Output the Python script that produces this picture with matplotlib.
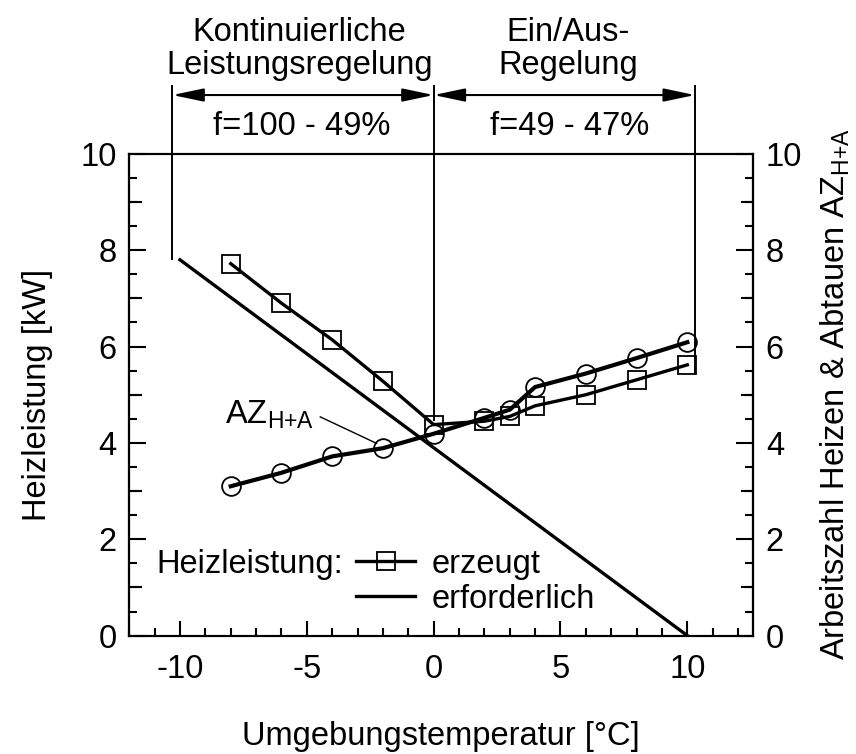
import numpy as np
import matplotlib
matplotlib.use("Agg")
import matplotlib.pyplot as plt
from matplotlib.ticker import MultipleLocator, FixedLocator
from matplotlib.lines import Line2D

plt.rcParams['font.family'] = ['Liberation Sans', 'DejaVu Sans']
plt.rcParams['mathtext.fontset'] = 'custom'
plt.rcParams['mathtext.rm'] = 'Liberation Sans'
plt.rcParams['mathtext.it'] = 'Liberation Sans'
plt.rcParams['font.size'] = 23.5

# generated heating power [kW]
t_gen = [-8, -6, -4, -2, 0, 2, 3, 4, 6, 8, 10]
p_gen = [7.72, 6.90, 6.14, 5.28, 4.38, 4.45, 4.55, 4.77, 5.00, 5.31, 5.62]

# coefficient of performance heating + defrost
t_az = [-8, -6, -4, -2, 0, 2, 3, 4, 6, 8, 10]
az = [3.10, 3.38, 3.72, 3.89, 4.19, 4.52, 4.69, 5.16, 5.44, 5.76, 6.09]

# required heating power [kW]
t_req = [-10, 10]
p_req = [7.8, 0.0]

# control regions
region_x = [-10.3, 0, 10.3]
region_bottom = [7.81, 4.48, 5.45]
region_top = 11.4
arrow_y = 11.22
region_titles = ["Kontinuierliche\nLeistungsregelung", "Ein/Aus-\nRegelung"]
region_f = ["f=100 - 49%", "f=49 - 47%"]

fig = plt.figure(figsize=(8.56, 7.54), dpi=100)
ax = fig.add_axes([0.151, 0.157, 0.729, 0.639])
ax2 = ax.twinx()

ax.plot(t_req, p_req, color='k', lw=2.4, label='erforderlich')
ax.plot(t_gen, p_gen, color='k', lw=2.4, marker='s', ms=13.5, mfc='none',
        mec='k', mew=1.3, label='erzeugt')
ax2.plot(t_az, az, color='k', lw=3.0, marker='o', ms=13.5, mfc='none',
         mec='k', mew=1.3)

ax.set_xlim(-12, 12.6)
ax.set_ylim(0, 10)
ax2.set_ylim(0, 10)

for a in (ax, ax2):
    for s in a.spines.values():
        s.set_linewidth(1.5)
ax.xaxis.set_major_locator(FixedLocator([-10, -5, 0, 5, 10]))
ax.xaxis.set_minor_locator(MultipleLocator(1))
ax.set_xticklabels(['-10', '-5', '0', '5', '10'])
ax.yaxis.set_major_locator(MultipleLocator(2))
ax.yaxis.set_minor_locator(MultipleLocator(0.5))
ax2.yaxis.set_major_locator(MultipleLocator(2))
ax2.yaxis.set_minor_locator(MultipleLocator(0.5))
ax.tick_params(axis='x', which='major', direction='in', length=11, width=1.5, pad=13, top=False)
ax.tick_params(axis='x', which='minor', direction='in', length=6, width=1.5, top=False)
ax.tick_params(axis='y', which='major', direction='in', length=12, width=1.5, pad=9, right=False)
ax.tick_params(axis='y', which='minor', direction='in', length=6, width=1.5, right=False)
ax2.tick_params(axis='y', which='major', direction='in', length=12, width=1.5, pad=9)
ax2.tick_params(axis='y', which='minor', direction='in', length=6, width=1.5)

# medium ticks at odd integers
for side in ('left', 'right'):
    sec = ax.secondary_yaxis(side)
    sec.set_yticks([1, 3, 5, 7, 9])
    sec.tick_params(direction='in', length=9, width=1.5, labelleft=False, labelright=False)
    sec.spines[side].set_linewidth(1.5)
    sec.set_yticklabels([])

ax.set_xlabel("Umgebungstemperatur [°C]", labelpad=26)
ax.set_ylabel("Heizleistung [kW]", labelpad=20)
ax2.set_ylabel("Arbeitszahl Heizen & Abtauen AZ$_\\mathregular{H{+}A}$", labelpad=12)

# region guides above the plot
for xv, yb in zip(region_x, region_bottom):
    ax.plot([xv, xv], [yb, region_top], color='k', lw=1.4, clip_on=False)
for i in range(2):
    ax.annotate('', xy=(region_x[i], arrow_y), xytext=(region_x[i + 1], arrow_y),
                xycoords='data', annotation_clip=False,
                arrowprops=dict(arrowstyle='<|-|>,head_length=1.9,head_width=0.4',
                                mutation_scale=10, lw=1.5, color='k',
                                shrinkA=0, shrinkB=0))
ax.text(-5.2, 10.56, region_f[0], ha='center', va='center')
ax.text(5.35, 10.56, region_f[1], ha='center', va='center')
ax.text(-5.3, 12.17, region_titles[0], ha='center', va='center', linespacing=1.07)
ax.text(5.3, 12.17, region_titles[1], ha='center', va='center', linespacing=1.07)

# AZ annotation
ax.text(-8.22, 4.41, "AZ$_\\mathregular{H{+}A}$", ha='left', va='baseline')
ax.plot([-4.47, -2.25], [4.54, 3.99], color='k', lw=1.0)

# legend
h_gen = Line2D([], [], color='k', lw=2.4, marker='s', ms=13.5, mfc='none', mec='k', mew=1.3)
h_req = Line2D([], [], color='k', lw=2.4)
ax.legend([h_gen, h_req], ['erzeugt', 'erforderlich'], loc='center left',
          bbox_to_anchor=(-3.05, 1.12), bbox_transform=ax.transData,
          frameon=False, handlelength=1.8, handletextpad=0.5, labelspacing=0.12,
          borderpad=0, borderaxespad=0)
ax.text(-3.56, 1.30, "Heizleistung:", ha='right', va='baseline')

fig.savefig("out.png", dpi=100)
